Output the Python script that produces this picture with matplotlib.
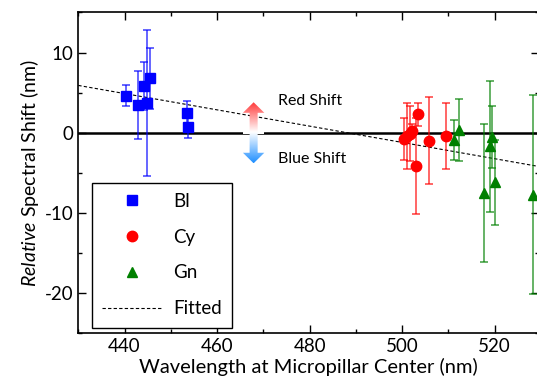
import numpy as np
import matplotlib
matplotlib.use('Agg')
import matplotlib.pyplot as plt
from matplotlib.path import Path
from matplotlib.patches import PathPatch, Rectangle
from matplotlib.ticker import MultipleLocator, FuncFormatter

plt.rcParams['font.family'] = ['Lato', 'DejaVu Sans']
plt.rcParams['mathtext.fontset'] = 'custom'
plt.rcParams['mathtext.it'] = 'Lato:italic'
plt.rcParams['mathtext.rm'] = 'Lato'

# data
bl_x = [440.3, 443.0, 444.2, 444.9, 445.6, 453.5, 453.8]
bl_y = [4.6, 3.5, 5.8, 3.7, 6.8, 2.4, 0.7]
bl_err = [1.3, 4.25, 3.0, 9.1, 3.8, 1.5, 1.3]

cy_x = [500.4, 501.1, 501.7, 502.2, 503.1, 503.5, 505.8, 509.4]
cy_y = [-0.75, -0.4, -0.1, 0.25, -4.1, 2.3, -1.0, -0.45]
cy_err = [2.6, 4.15, 3.4, 0.8, 6.0, 1.4, 5.4, 4.1]

gn_x = [511.2, 512.2, 517.8, 518.9, 519.5, 520.1, 528.4]
gn_y = [-0.95, 0.3, -7.5, -1.7, -0.55, -6.2, -7.7]
gn_err = [2.5, 3.85, 8.6, 8.2, 3.9, 5.3, 12.4]

fit_intercept = 5.9   # value at 430 nm
fit_slope = -0.1015

fig = plt.figure(figsize=(5.37, 3.88), dpi=100)
ax = fig.add_axes([0.1458, 0.141, 0.858, 0.827])

ax.axhline(0, color='black', lw=1.8, zorder=1)

fx = np.array([430, 530])
ax.plot(fx, fit_intercept + fit_slope * (fx - 430), color='black', lw=0.8,
        ls=(0, (3, 2)), label='Fitted', zorder=2)

groups = [(bl_x, bl_y, bl_err, 's', 'blue', 'Bl', 6.8),
          (cy_x, cy_y, cy_err, 'o', 'red', 'Cy', 7.5),
          (gn_x, gn_y, gn_err, '^', 'green', 'Gn', 7.8)]
handles = []
for x, y, e, m, c, lab, ms in groups:
    ax.errorbar(x, y, yerr=e, fmt='none', ecolor=c, elinewidth=1.2,
                capsize=3, capthick=1.2, alpha=0.7, zorder=3)
    h, = ax.plot(x, y, ls='none', marker=m, color=c, ms=ms, label=lab, zorder=4)
    handles.append(h)

# gradient double arrow (red shift up, blue shift down)
xc, top, bot = 467.9, 3.8, -3.81
hw, sw = 21.3 / 2 / 4.61, 8 / 2 / 4.61
hl = 10.6 / 8.06
ax.add_patch(Rectangle((xc - hw, -0.2), 2 * hw, 0.4, facecolor='white',
                       edgecolor='none', zorder=4.5))
verts = [(xc, top), (xc + hw, top - hl), (xc + sw, top - hl), (xc + sw, bot + hl),
         (xc + hw, bot + hl), (xc, bot), (xc - hw, bot + hl), (xc - sw, bot + hl),
         (xc - sw, top - hl), (xc - hw, top - hl), (xc, top)]
arrow = PathPatch(Path(verts, closed=True), facecolor='none', edgecolor='none')
ax.add_patch(arrow)
t = np.linspace(0, 1, 256)
red = np.array([1.0, 0.2, 0.2])
blue = np.array([0.12, 0.56, 1.0])
white = np.array([1.0, 1.0, 1.0])
cols = []
for v in t:
    if v < 0.5:
        cols.append(red + (white - red) * (v / 0.5))
    else:
        cols.append(white + (blue - white) * ((v - 0.5) / 0.5))
img = np.array(cols)[:, None, :]
im = ax.imshow(img, extent=[xc - hw, xc + hw, bot, top], aspect='auto',
               interpolation='bilinear', zorder=5)
im.set_clip_path(arrow)

ax.text(473.1, 4.0, 'Red Shift', fontsize=11.5, va='center', ha='left')
ax.text(473.1, -3.3, 'Blue Shift', fontsize=11.5, va='center', ha='left')

ax.set_xlim(430, 529.6)
ax.set_ylim(-25, 15)
ax.xaxis.set_major_locator(MultipleLocator(20))
ax.xaxis.set_minor_locator(MultipleLocator(10))
ax.yaxis.set_major_locator(MultipleLocator(10))
ax.yaxis.set_minor_locator(MultipleLocator(5))
ax.yaxis.set_major_formatter(FuncFormatter(lambda v, p: '%d' % v))
ax.tick_params(which='both', direction='in', top=True, right=True,
               labelsize=13.5, width=1)
ax.tick_params(which='major', length=6)
ax.tick_params(which='minor', length=3)
for s in ax.spines.values():
    s.set_linewidth(1.2)

ax.set_xlabel('Wavelength at Micropillar Center (nm)', fontsize=14.5, labelpad=2)
ax.set_ylabel(r'$\it{Relative}$ Spectral Shift (nm)', fontsize=14, labelpad=3)

fit_line = ax.get_lines()[1]
leg = ax.legend(handles + [fit_line], ['Bl', 'Cy', 'Gn', 'Fitted'],
                loc='lower left', bbox_to_anchor=(0.029, 0.018), fontsize=13.5,
                fancybox=False, edgecolor='black', framealpha=1,
                labelspacing=1.0, handlelength=3.2, handletextpad=0.6,
                borderpad=0.55, borderaxespad=0)
leg.get_frame().set_linewidth(1.0)

fig.savefig('out.png', dpi=100)
